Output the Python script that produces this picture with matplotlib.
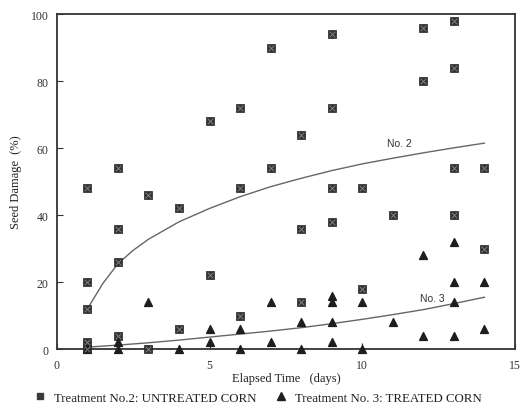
import numpy as np
import matplotlib.pyplot as plt
from matplotlib.lines import Line2D

# 处理2：未处理玉米（方块）
t2_day = [1, 1, 1, 1, 1,
          2, 2, 2, 2,
          3, 3,
          4, 4,
          5, 5,
          6, 6, 6,
          7, 7,
          8, 8, 8,
          9, 9, 9, 9,
          10, 10,
          11,
          12, 12,
          13, 13, 13, 13,
          14, 14]
t2_dmg = [48, 20, 12, 2, 0,
          54, 36, 26, 4,
          46, 0,
          42, 6,
          68, 22,
          72, 48, 10,
          90, 54,
          64, 36, 14,
          94, 72, 48, 38,
          48, 18,
          40,
          96, 80,
          98, 84, 54, 40,
          54, 30]

# 处理3：处理过的玉米（三角）
t3_day = [1,
          2, 2,
          3,
          4,
          5, 5,
          6, 6,
          7, 7,
          8, 8,
          9, 9, 9, 9,
          10, 10,
          11,
          12, 12,
          13, 13, 13, 13,
          14, 14]
t3_dmg = [0,
          2, 0,
          14,
          0,
          6, 2,
          6, 0,
          14, 2,
          8, 0,
          16, 14, 8, 2,
          14, 0,
          8,
          28, 4,
          32, 20, 14, 4,
          20, 6]

# 拟合曲线
fit2_day = [1, 1.5, 2, 2.5, 3, 4, 5, 6, 7, 8, 9, 10, 11, 12, 13, 14]
fit2_val = [12, 19.5, 25.5, 29.5, 32.8, 38, 42, 45.5, 48.5, 51, 53.3, 55.3, 57, 58.6, 60.1, 61.5]
fit3_day = [1, 2, 3, 4, 5, 6, 7, 8, 9, 10, 11, 12, 13, 14]
fit3_val = [0.6, 1.2, 1.9, 2.7, 3.6, 4.5, 5.4, 6.4, 7.6, 8.9, 10.3, 11.8, 13.6, 15.5]

serif = ['Liberation Serif', 'DejaVu Serif']
sans = ['Liberation Sans', 'DejaVu Sans']

fig = plt.figure(figsize=(5.26, 4.10), dpi=100)
ax = fig.add_axes([0.108, 0.146, 0.871, 0.817])

ax.plot(fit2_day, fit2_val, color='#666666', lw=1.0, zorder=2)
ax.plot(fit3_day, fit3_val, color='#666666', lw=1.0, zorder=2)

ax.scatter(t2_day, t2_dmg, marker='s', s=26, color='#333333', edgecolors='#222222',
           linewidths=0.5, zorder=3, clip_on=False)
ax.scatter(t2_day, t2_dmg, marker='x', s=16, color='#8a8a8a', linewidths=0.6, zorder=4,
           clip_on=False)
ax.scatter(t3_day, t3_dmg, marker='^', s=32, color='#1e1e1e', zorder=3, clip_on=False)

ax.text(10.8, 60.5, 'No. 2', family=sans, fontsize=7.5, color='#333333')
ax.text(11.9, 14.3, 'No. 3', family=sans, fontsize=7.5, color='#333333')

ax.set_xlim(0, 15)
ax.set_ylim(0, 100)
ax.set_xticks([0, 5, 10, 15])
ax.set_yticks([0, 20, 40, 60, 80, 100])
ax.tick_params(direction='in', length=4, width=0.8, colors='#333333', labelsize=8.5,
               top=False, right=False)
ax.tick_params(axis='x', pad=7)
ax.tick_params(axis='y', pad=6)
for lab in ax.get_xticklabels() + ax.get_yticklabels():
    lab.set_family(serif)
for sp in ax.spines.values():
    sp.set_linewidth(1.3)
    sp.set_color('#333333')

ax.set_xlabel('Elapsed Time   (days)', family=serif, fontsize=9, color='#222222', labelpad=1)
ax.set_ylabel('Seed Damage  (%)', family=serif, fontsize=9, color='#222222', labelpad=6)

handles = [Line2D([], [], ls='none', marker='s', ms=5, color='#3a3a3a'),
           Line2D([], [], ls='none', marker='^', ms=6, color='#1e1e1e')]
labels = ['Treatment No.2: UNTREATED CORN', 'Treatment No. 3: TREATED CORN']
fig.legend(handles, labels, loc='lower center', bbox_to_anchor=(0.49, -0.015), ncol=2,
           frameon=False, prop={'family': serif, 'size': 9.3}, handletextpad=0.6,
           columnspacing=1.4, handlelength=1.0, labelcolor='#222222')

fig.savefig('out.png', dpi=100)
